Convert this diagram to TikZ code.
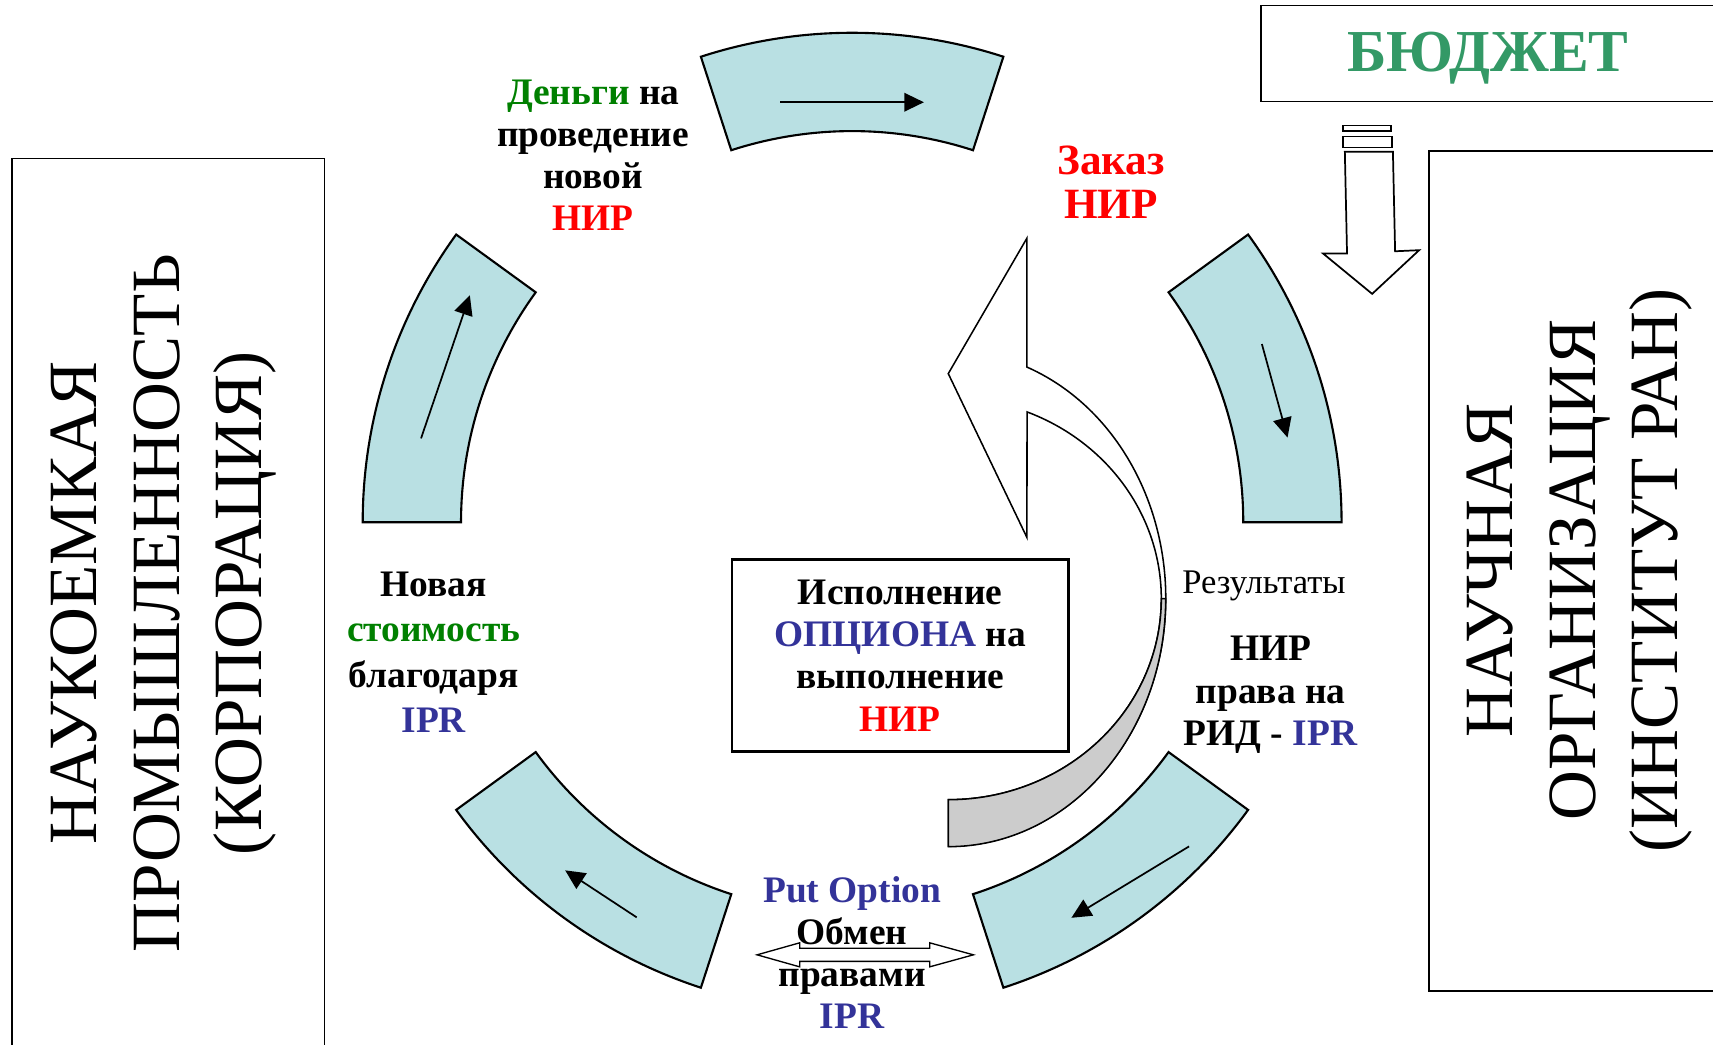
\documentclass[tikz,border=0pt]{standalone}
\usepackage{fontspec}
\setmainfont{Liberation Serif}
\usetikzlibrary{arrows.meta}
\definecolor{ringblue}{RGB}{185,224,227}
\definecolor{moneygreen}{RGB}{0,128,0}
\definecolor{budgetgreen}{RGB}{51,153,102}
\definecolor{iprblue}{RGB}{51,51,153}
\definecolor{nirred}{RGB}{255,0,0}
\newcommand{\grn}[1]{\textcolor{moneygreen}{#1}}
\newcommand{\rdd}[1]{\textcolor{nirred}{#1}}
\newcommand{\blu}[1]{\textcolor{iprblue}{#1}}

\begin{document}
\begin{tikzpicture}[x=0.02cm,y=0.02cm,line width=0.9pt,>={Triangle[length=3.6mm,width=3.4mm]}]
\tikzset{block/.style={draw,fill=ringblue,line width=1.1pt},
  lbl/.style={font=\fontsize{19.5}{22}\selectfont\bfseries,align=center,inner sep=0pt},
  side/.style={font=\fontsize{36}{43}\selectfont,align=center,rotate=90,inner sep=0pt}}
\def\R{448}\def\r{358}
\useasboundingbox (0,0) rectangle (1568,-956);
% ---- frames: corporation, institute, budget (cut by the page edge) ----
\draw (11,-980) -- (11,-145) -- (297,-145) -- (297,-980);
\draw (1590,-138) -- (1308,-138) -- (1308,-907) -- (1590,-907);
\draw (1590,-5) -- (1154,-5) -- (1154,-93) -- (1590,-93);
\node[side] (corp) at (150,-552) {НАУКОЕМКАЯ\\ПРОМЫШЛЕННОСТЬ\\(КОРПОРАЦИЯ)};
\node[side] (inst) at (1446,-522) {НАУЧНАЯ\\ОРГАНИЗАЦИЯ\\(ИНСТИТУТ РАН)};
\node[font=\fontsize{31}{31}\selectfont\bfseries,text=budgetgreen] (budget) at (1362,-53) {БЮДЖЕТ};
% ---- striped arrow down from the budget ----
\draw (1229,-115) rectangle (1273,-120);
\draw (1229,-125) rectangle (1274,-135);
\draw (1231,-139) -- (1275,-139) -- (1277,-230) -- (1299,-229) -- (1256,-269)
  -- (1211,-232) -- (1233,-232) -- cycle;
% ---- ring: every other 36 degree block ----
\coordinate (O) at (780,-478);
\begin{scope}[shift={(O)}]
  \foreach \a in {0,72,...,288}
    \draw[block] (\a:\r) -- (\a:\R) arc[start angle=\a,end angle=\a+36,radius=\R]
      -- ({\a+36}:\r) arc[start angle=\a+36,end angle=\a,radius=\r] -- cycle;
  \foreach \s/\rs/\e/\re in {99.7/390/80.3/390,23.5/409/11/406,-43.9/428/-61/414,
      -118.6/412/-129.5/413,169/402/149.3/407}
    \draw[->] (\s:\rs) -- (\e:\re);
\end{scope}
% ---- curved arrow back to the order ----
\coordinate (C) at (868,-548);
\begin{scope}[shift={(C)},line width=0.8pt]
  \draw[fill=white] (0,-184) arc[start angle=-90,end angle=68.3,x radius=195,y radius=184]
    -- (72,56) -- (0,206) -- (72,330) -- (72,212)
    arc[start angle=68.8,end angle=-90,x radius=199,y radius=227] -- cycle;
  \draw[fill=black!20] (199,0) arc[start angle=0,end angle=-90,x radius=199,y radius=227]
    -- (0,-184) arc[start angle=-90,end angle=0,x radius=195,y radius=184] -- cycle;
\end{scope}
\node[lbl,draw,line width=1.2pt,fill=white,minimum width=6.16cm,minimum height=3.52cm]
  (option) at (824,-600) {Исполнение\\\blu{ОПЦИОНА} на\\выполнение\\\rdd{НИР}};
% ---- labels round the ring ----
\node[lbl] (money) at (543,-142) {\grn{Деньги} на\\проведение\\новой\\\rdd{НИР}};
\node[lbl,font=\fontsize{22.5}{23}\selectfont\bfseries,text=nirred] (order) at (1017,-167) {Заказ\\НИР};
\node[font=\fontsize{18}{20}\selectfont] (result) at (1157,-536) {Результаты};
\node[lbl] (rights) at (1163,-636) {НИР\\права на\\РИД - \blu{IPR}};
\node[lbl,font=\fontsize{19.5}{23.5}\selectfont\bfseries] (value) at (397,-597)
  {Новая\\\grn{стоимость}\\благодаря\\\blu{IPR}};
\draw[fill=white,line width=0.7pt] (693,-874) -- (732,-863) -- (732,-868) -- (851,-868)
  -- (851,-863) -- (891,-874) -- (851,-885) -- (851,-880) -- (732,-880) -- (732,-885) -- cycle;
\node[lbl] (put) at (780,-872) {\blu{Put Option}\\Обмен\\правами\\\blu{IPR}};
\end{tikzpicture}
\end{document}
